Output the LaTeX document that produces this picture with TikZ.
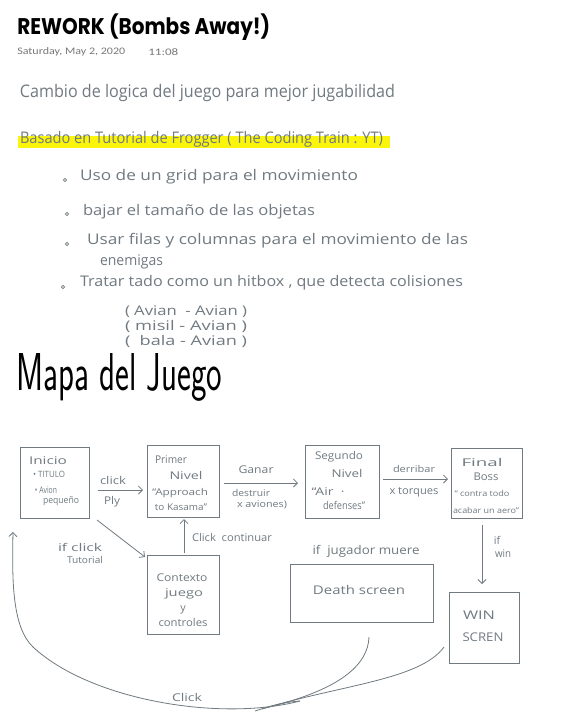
\documentclass[tikz,border=0pt]{standalone}
\usepackage{fontspec}
\usepackage{graphicx}
\usetikzlibrary{arrows.meta,calc}
\setmainfont{Open Sans}
\setsansfont{Latin Modern Sans}
\newfontfamily\titlef{Poppins}
\newfontfamily\datef{Carlito}
\newfontfamily\hand{Open Sans}
\newdimen\pxu \pxu=0.75pt
\newcommand\fitw[2]{\resizebox{#1\pxu}{\height}{#2}}
\definecolor{ink}{RGB}{112,122,128}
\definecolor{hl}{RGB}{250,245,10}
\definecolor{dategray}{RGB}{120,120,120}
\begin{document}
\begin{tikzpicture}[x=0.75pt,y=-0.75pt,
  txt/.style={inner sep=0pt,outer sep=0pt,text=ink,font=\hand\fontsize{8}{9}\selectfont},
  line/.style={anchor=west,inner sep=0pt,outer sep=0pt,text=ink},
  box/.style={draw=ink,line width=0.6pt,inner sep=0pt,outer sep=0pt},
  arr/.style={draw=ink,line width=0.6pt,-{Straight Barb[length=3pt,width=6pt]}},
  lnk/.style={draw=ink,line width=0.6pt},
  bul/.style={draw=ink,line width=0.6pt,circle,inner sep=0pt,minimum size=2.5pt}]
\useasboundingbox (0,0) rectangle (575,721);
\fill[white] (0,0) rectangle (575,721);

% header
\node[anchor=west,inner sep=0pt] (title) at (17,27) {\titlef\bfseries\fontsize{17}{18}\selectfont\fitw{253}{REWORK (Bombs Away!)}};
\node[anchor=west,inner sep=0pt,text=dategray] (date) at (17,52) {\datef\fontsize{7.5}{8}\selectfont\fitw{108}{Saturday, May 2, 2020}};
\node[anchor=west,inner sep=0pt,text=dategray] (time) at (148,52) {\datef\fontsize{7.5}{8}\selectfont\fitw{30}{11:08}};

% notes
\node[line,font=\hand\fontsize{13}{14}\selectfont] (l1) at (20,93) {\fitw{375}{Cambio de logica del juego para mejor jugabilidad}};
\fill[hl] (18,136) rectangle (390,148);
\node[line,font=\hand\fontsize{12}{13}\selectfont] (l2) at (20,139) {\fitw{363}{Basado en Tutorial de Frogger ( The Coding Train : YT)}};

\node[bul] (b1) at (65,180) {};
\node[line,font=\hand\fontsize{11}{12}\selectfont] (l3) at (80,177) {\fitw{278}{Uso de un grid para el movimiento}};
\node[bul] (b2) at (67,214) {};
\node[line,font=\hand\fontsize{11}{12}\selectfont] (l4) at (83,212) {\fitw{232}{bajar el tamaño de las objetas}};
\node[bul] (b3) at (67,244) {};
\node[line,font=\hand\fontsize{11}{12}\selectfont] (l5) at (87,241) {\fitw{381}{Usar filas y columnas para el movimiento de las}};
\node[line,font=\hand\fontsize{11}{12}\selectfont] (l6) at (100,262) {\fitw{63}{enemigas}};
\node[bul] (b4) at (63,287) {};
\node[line,font=\hand\fontsize{11}{12}\selectfont] (l7) at (80,283) {\fitw{383}{Tratar tado como un hitbox , que detecta colisiones}};
\node[line,font=\hand\fontsize{10}{11}\selectfont] (l8) at (125,312) {\fitw{122}{( Avian \ - Avian )}};
\node[line,font=\hand\fontsize{10}{11}\selectfont] (l9) at (125,326) {\fitw{122}{( misil - Avian )}};
\node[line,font=\hand\fontsize{10}{11}\selectfont] (l10) at (125,341) {\fitw{122}{( \ bala - Avian )}};

\node[anchor=base west,inner sep=0pt] (mapa) at (16,390) {\sffamily\fontsize{24}{26}\selectfont\resizebox{206\pxu}{37\pxu}{Mapa del Juego}};

% boxes
\node[box,minimum width=69\pxu,minimum height=71\pxu] (inicio) at (54.5,482.5) {};
\node[box,minimum width=72\pxu,minimum height=72\pxu] (primer) at (183,481) {};
\node[box,minimum width=74\pxu,minimum height=73\pxu] (segundo) at (342,481.5) {};
\node[box,minimum width=71\pxu,minimum height=70\pxu] (final) at (486.5,483) {};
\node[box,minimum width=72\pxu,minimum height=79\pxu] (contexto) at (183,594.5) {};
\node[box,minimum width=143\pxu,minimum height=58\pxu] (death) at (361.5,593) {};
\node[box,minimum width=70\pxu,minimum height=71\pxu] (win) at (484,627.5) {};

% box texts
\node[txt] (i1) at (48,461) {\fitw{38}{Inicio}};
\node[txt,font=\hand\fontsize{6.5}{7}\selectfont] (i2) at (49,474) {\fitw{32}{• TITULO}};
\node[txt,font=\hand\fontsize{7}{8}\selectfont] (i3) at (46,490) {\fitw{22}{• Avion}};
\node[txt,font=\hand\fontsize{7}{8}\selectfont] (i4) at (61,501) {\fitw{36}{pequeño}};

\node[txt] (p1) at (171,460) {\fitw{32}{Primer}};
\node[txt] (p2) at (186,475) {\fitw{33}{Nivel}};
\node[txt,font=\hand\fontsize{7}{8}\selectfont] (p3) at (180,493) {\fitw{56}{“Approach}};
\node[txt,font=\hand\fontsize{7}{8}\selectfont] (p4) at (181,507) {\fitw{52}{to Kasama”}};

\node[txt] (s1) at (339,457) {\fitw{48}{Segundo}};
\node[txt] (s2) at (347,473) {\fitw{31}{Nivel}};
\node[txt] (s3) at (328,492) {\fitw{33}{“Air \ ·}};
\node[txt] (s4) at (344,505) {\fitw{42}{defenses”}};

\node[txt] (f1) at (482,462) {\fitw{41}{Final}};
\node[txt] (f2) at (486,477) {\fitw{25}{Boss}};
\node[txt,font=\hand\fontsize{6}{7}\selectfont] (f3) at (482,493) {\fitw{55}{“ contra todo}};
\node[txt,font=\hand\fontsize{6}{7}\selectfont] (f4) at (486,510) {\fitw{66}{acabar un aero”}};

\node[txt] (c1) at (182,578) {\fitw{51}{Contexto}};
\node[txt] (c2) at (184,594) {\fitw{38}{juego}};
\node[txt] (c3) at (183,610) {y};
\node[txt] (c4) at (183,622) {\fitw{49}{controles}};

\node[txt,font=\hand\fontsize{9}{10}\selectfont] (d1) at (359,590) {\fitw{92}{Death screen}};
\node[txt,font=\hand\fontsize{9}{10}\selectfont] (w1) at (479,615) {\fitw{32}{WIN}};
\node[txt,font=\hand\fontsize{9}{10}\selectfont] (w2) at (483,637) {\fitw{41}{SCREN}};

% connectors
\draw[arr] ($(inicio.east)+(9,7.5)$) -- ($(primer.west)+(-4,9)$);
\draw[arr] ($(primer.east)+(5,2)$) -- ($(segundo.west)+(-7,1.5)$);
\draw[arr] ($(segundo.east)+(4,-2.5)$) -- ($(final.west)+(-3,-4)$);
\draw[arr] ($(final.south)+(-4.5,7)$) -- ($(win.north)+(-2,-8)$);
\draw[arr] ($(contexto.north)+(1,-2)$) -- ($(primer.south)+(1,2)$);
\draw[arr] ($(inicio.south east)+(8,2)$) -- ($(contexto.north west)+(-2,2)$);

\coordinate (merge) at (300,701);
\coordinate (bend) at (33,647);
\draw[lnk] ($(death.south)+(7.5,15)$) .. controls (368,665) and (340,690) .. (265,708);
\draw[lnk] ($(win.west)+(-5,19.5)$) .. controls (420,680) and (340,685) .. (262,709);
\draw[lnk] (255,711) .. controls (270,706) and (285,702) .. (merge);
\draw[lnk] (merge) .. controls (220,722) and (90,700) .. (bend);
\draw[arr] (bend) .. controls (12,627) and (12,580) .. ($(inicio.south west)+(-7,14)$);

% labels
\node[txt] (a1) at (113,480) {\fitw{26}{click}};
\node[txt] (a2) at (112,502) {\fitw{16}{Ply}};
\node[txt] (a3) at (256,470) {\fitw{35}{Ganar}};
\node[txt,font=\hand\fontsize{7}{8}\selectfont] (a4) at (251,493) {\fitw{38}{destruir}};
\node[txt,font=\hand\fontsize{7}{8}\selectfont] (a5) at (262,505) {\fitw{50}{x aviones)}};
\node[txt,font=\hand\fontsize{7}{8}\selectfont] (a6) at (414,469) {\fitw{42}{derribar}};
\node[txt] (a7) at (414,492) {\fitw{49}{x torques}};
\node[txt] (a8) at (80,547) {\fitw{44}{if click}};
\node[txt,font=\hand\fontsize{7}{8}\selectfont] (a9) at (85,560) {\fitw{36}{Tutorial}};
\node[txt] (a10) at (232,537) {\fitw{80}{Click \ continuar}};
\node[txt,font=\hand\fontsize{9}{10}\selectfont] (a11) at (366,551) {\fitw{107}{if \ jugador muere}};
\node[txt] (a12) at (497,540) {if};
\node[txt] (a13) at (503,554) {\fitw{16}{win}};
\node[txt] (a14) at (187,697) {\fitw{30}{Click}};
\end{tikzpicture}
\end{document}
